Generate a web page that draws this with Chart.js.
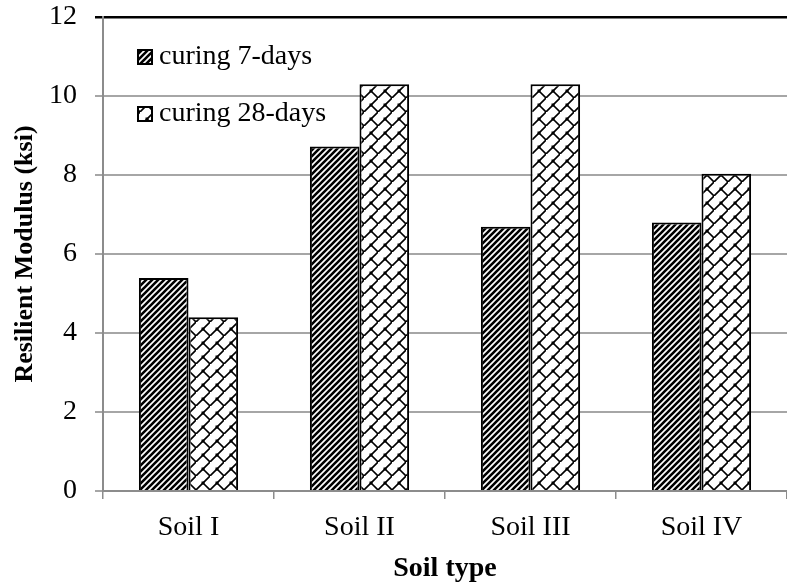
<!DOCTYPE html>
<html>
<head>
<meta charset="utf-8">
<script src="https://cdn.jsdelivr.net/npm/chart.js@4"></script>
<style>
  html, body { margin: 0; padding: 0; background: #fff; overflow: hidden; }
  #wrap { width: 787px; height: 586px; }
</style>
</head>
<body>
<div id="wrap"><canvas id="modulusChart" width="787" height="586"></canvas></div>
<script>
// resilient modulus per soil, two curing periods
var soilTypes = ['Soil I', 'Soil II', 'Soil III', 'Soil IV'];
var curing7 = [5.39, 8.72, 6.69, 6.80];
var curing28 = [4.40, 10.30, 10.30, 8.03];
var seriesNames = ['curing 7-days', 'curing 28-days'];
var yTicks = [0, 2, 4, 6, 8, 10, 12];

var FONT = '"Liberation Serif", "Times New Roman", serif';

// dense "///" hatch
function stripePattern(ctx) {
    var c = document.createElement('canvas');
    c.width = 6; c.height = 6;
    var g = c.getContext('2d');
    g.fillStyle = '#fff';
    g.fillRect(0, 0, 6, 6);
    g.strokeStyle = '#000';
    g.lineWidth = 2.6;
    g.beginPath();
    g.moveTo(-1, 7); g.lineTo(7, -1);
    g.moveTo(-4, 4); g.lineTo(4, -4);
    g.moveTo(2, 10); g.lineTo(10, 2);
    g.stroke();
    return ctx.createPattern(c, 'repeat');
}

// open diagonal brick
function brickPattern(ctx) {
    var s = 14;
    var c = document.createElement('canvas');
    c.width = s; c.height = s;
    var g = c.getContext('2d');
    g.fillStyle = '#fff';
    g.fillRect(0, 0, s, s);
    g.strokeStyle = '#000';
    g.lineWidth = 1.6;
    g.beginPath();
    g.moveTo(-1, s + 1); g.lineTo(s + 1, -1);
    g.moveTo(s / 2, s / 2); g.lineTo(s, s);
    g.stroke();
    g.fillStyle = '#000';
    g.fillRect(s / 2 - 1.5, s / 2 - 1.5, 3, 3);
    return ctx.createPattern(c, 'repeat');
}

var canvas = document.getElementById('modulusChart');
var ctx = canvas.getContext('2d');
var fills = [stripePattern(ctx), brickPattern(ctx)];

// legend drawn inside the plot, top left
var innerLegend = {
    id: 'innerLegend',
    afterDraw: function(chart) {
        var c = chart.ctx;
        var rows = [57, 114];
        c.save();
        chart.data.datasets.forEach(function(ds, i) {
            var y = rows[i];
            c.fillStyle = fills[i];
            c.fillRect(138, y - 7, 14, 14);
            c.strokeStyle = '#000';
            c.lineWidth = 2;
            c.strokeRect(138, y - 7, 14, 14);
            c.fillStyle = '#000';
            c.font = '28px ' + FONT;
            c.textBaseline = 'middle';
            c.fillText(ds.label, 159, y);
        });
        c.restore();
    }
};

new Chart(ctx, {
    type: 'bar',
    data: {
        labels: soilTypes,
        datasets: [{
            label: seriesNames[0],
            data: curing7,
            backgroundColor: fills[0],
            borderColor: '#000',
            borderWidth: 2
        }, {
            label: seriesNames[1],
            data: curing28,
            backgroundColor: fills[1],
            borderColor: '#000',
            borderWidth: 2
        }]
    },
    options: {
        responsive: false,
        animation: false,
        events: [],
        layout: { padding: { top: 17, left: 0, right: 0, bottom: 0 } },
        datasets: {
            bar: { categoryPercentage: 0.58, barPercentage: 1.0 }
        },
        plugins: {
            legend: { display: false },
            tooltip: { enabled: false }
        },
        scales: {
            x: {
                offset: true,
                grid: {
                    offset: true,
                    drawOnChartArea: false,
                    drawTicks: true,
                    tickLength: 8,
                    color: '#8c8c8c',
                    lineWidth: 1.5
                },
                border: { color: '#8c8c8c', width: 2 },
                ticks: {
                    color: '#000',
                    font: { family: FONT, size: 28 },
                    padding: 12
                },
                title: {
                    display: true,
                    text: 'Soil type',
                    color: '#000',
                    font: { family: FONT, size: 28, weight: 'bold' },
                    padding: { top: 0, bottom: 0 }
                },
                afterFit: function(scale) {
                    scale.height = 95;
                    scale.paddingLeft = 0;
                    scale.paddingRight = 0;
                }
            },
            y: {
                min: 0,
                max: 12,
                afterBuildTicks: function(scale) {
                    scale.ticks = yTicks.map(function(v) { return { value: v }; });
                },
                grid: {
                    tickLength: 8,
                    lineWidth: function(c) { return c.tick && c.tick.value === 12 ? 2.5 : 2; },
                    color: function(c) { return c.tick && c.tick.value === 12 ? '#000' : '#a6a6a6'; }
                },
                border: { color: '#8c8c8c', width: 2 },
                ticks: {
                    color: '#000',
                    font: { family: FONT, size: 28 },
                    padding: 18
                },
                title: {
                    display: true,
                    text: 'Resilient Modulus (ksi)',
                    color: '#000',
                    font: { family: FONT, size: 26, weight: 'bold' },
                    padding: { top: 10, bottom: 0 }
                },
                afterFit: function(scale) {
                    scale.width = 103;
                    scale.paddingTop = 0;
                    scale.paddingBottom = 0;
                }
            }
        }
    },
    plugins: [innerLegend]
});
</script>
</body>
</html>
